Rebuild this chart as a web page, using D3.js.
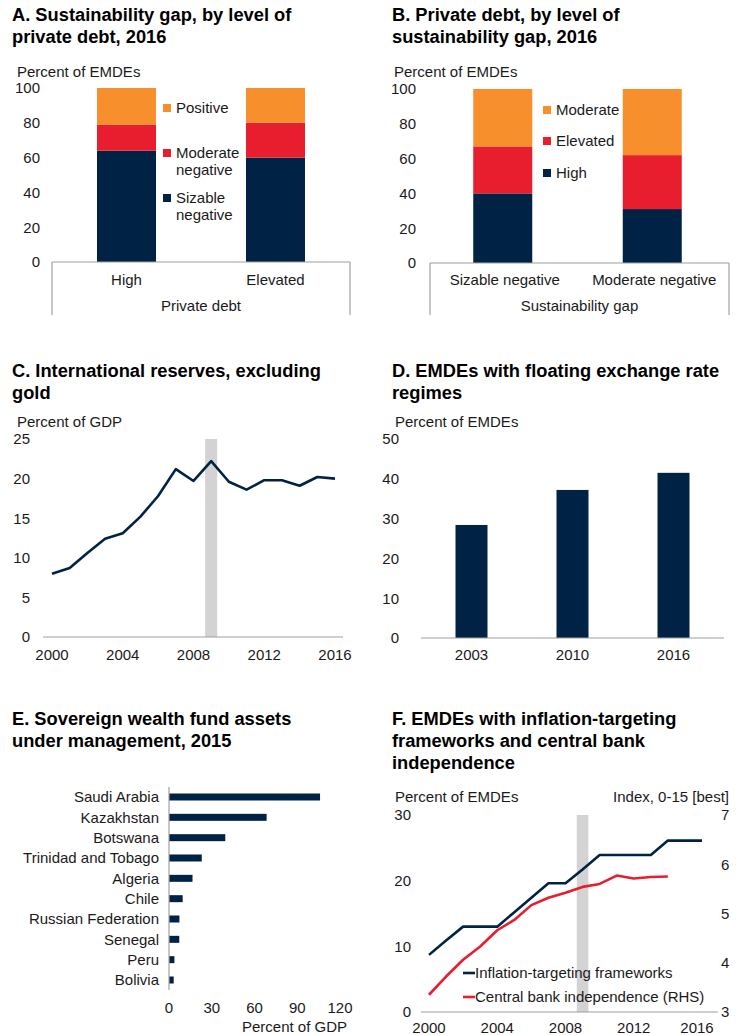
<!DOCTYPE html>
<html>
<head>
<meta charset="utf-8">
<script src="https://cdn.jsdelivr.net/npm/d3@7"></script>
<style>
  body { margin: 0; background: #fff; }
  svg { font-family: Arial, "Liberation Sans", sans-serif; }
  .title { font-weight: bold; font-size: 18.3px; fill: #000; }
  .lbl { font-size: 15px; fill: #1a1a1a; }
</style>
</head>
<body>
<svg id="chart"></svg>
<script>
// ---- data ----
const gapCats = ['High', 'Elevated'];
const gapSeries = ['Sizable negative', 'Moderate negative', 'Positive'];
const gapValues = [[64, 15, 21], [60, 20, 20]];

const debtCats = ['Sizable negative', 'Moderate negative'];
const debtSeries = ['High', 'Elevated', 'Moderate'];
const debtValues = [[40, 27, 33], [31, 31, 38]];

const resYears = d3.range(2000, 2017);
const resValues = [8.0, 8.7, 10.6, 12.4, 13.1, 15.2, 17.8, 21.2, 19.7, 22.2, 19.6, 18.6, 19.8, 19.8, 19.1, 20.2, 20.0];

const floatYears = ['2003', '2010', '2016'];
const floatValues = [28.4, 37.2, 41.5];

const swfCountries = ['Saudi Arabia', 'Kazakhstan', 'Botswana', 'Trinidad and Tobago', 'Algeria',
  'Chile', 'Russian Federation', 'Senegal', 'Peru', 'Bolivia'];
const swfValues = [106, 68.5, 39.5, 23, 16.5, 9.6, 7.3, 7.2, 3.8, 3.3];

const itYears = d3.range(2000, 2017);
const itValues = [8.7, 10.9, 13.0, 13.0, 13.0, 15.2, 17.4, 19.6, 19.6, 21.7, 23.9, 23.9, 23.9, 23.9, 26.1, 26.1, 26.1];
const cbiYears = d3.range(2000, 2015);
const cbiValues = [3.35, 3.72, 4.06, 4.33, 4.66, 4.87, 5.17, 5.32, 5.42, 5.54, 5.60, 5.77, 5.71, 5.74, 5.75];

const crisisBand = [2008.66, 2009.34];

const navy = '#002345', red = '#e81d2d', orange = '#f68f2c', band = '#d3d3d3', axisGrey = '#a0a0a0';

const svg = d3.select('#chart').attr('width', 742).attr('height', 1035);

function title(x, y, lines) {
  const t = svg.append('text').attr('class', 'title');
  lines.forEach((l, i) => t.append('tspan').attr('x', x).attr('y', y + i * 22).text(l));
}
function label(x, y, txt, anchor) {
  return svg.append('text').attr('class', 'lbl').attr('x', x).attr('y', y)
    .attr('text-anchor', anchor || 'start').text(txt);
}
function leftTicks(scale, ticks, xRight) {
  svg.append('g').selectAll('text').data(ticks).join('text')
    .attr('class', 'lbl').attr('x', xRight).attr('y', d => scale(d)).attr('dy', '0.36em')
    .attr('text-anchor', 'end').text(d => d);
}
function hline(x1, x2, y) {
  svg.append('line').attr('x1', x1).attr('x2', x2).attr('y1', y).attr('y2', y)
    .attr('stroke', axisGrey).attr('stroke-width', 1.2);
}
function vline(x, y1, y2) {
  svg.append('line').attr('x1', x).attr('x2', x).attr('y1', y1).attr('y2', y2)
    .attr('stroke', axisGrey).attr('stroke-width', 1.2);
}

// stacked bar panel (A and B)
function stacked(opt) {
  const x = d3.scaleBand().domain(opt.cats).range([opt.x0, opt.x1]);
  const y = d3.scaleLinear().domain([0, 100]).range([opt.y0, opt.y1]);
  const colors = [navy, red, orange];
  const rows = opt.cats.map((c, i) => {
    const r = { cat: c };
    opt.series.forEach((s, j) => r[s] = opt.values[i][j]);
    return r;
  });
  const stack = d3.stack().keys(opt.series)(rows);
  const bw = 59;
  svg.append('g').selectAll('g').data(stack).join('g')
    .attr('fill', (d, i) => colors[i])
    .selectAll('rect').data(d => d).join('rect')
    .attr('x', d => x(d.data.cat) + x.bandwidth() / 2 - bw / 2 + opt.shift)
    .attr('width', bw)
    .attr('y', d => y(d[1]))
    .attr('height', d => y(d[0]) - y(d[1]));
  leftTicks(y, d3.range(0, 101, 20), opt.tickX);
  hline(opt.x0, opt.x1, opt.y0);
  vline(opt.x0, opt.y0, 315);
  vline(opt.x1, opt.y0, 315);
  opt.cats.forEach(c => label(x(c) + x.bandwidth() / 2, 285, c, 'middle'));
  label((opt.x0 + opt.x1) / 2, 311, opt.axisTitle, 'middle');
  label(opt.unitX, 77, 'Percent of EMDEs');
  // legend
  opt.legend.forEach(l => {
    svg.append('rect').attr('x', opt.legX).attr('y', l.y - 4).attr('width', 8).attr('height', 8)
      .attr('fill', colors[l.i]);
    l.lines.forEach((t, k) => label(opt.legX + 13, l.y + 5.4 + k * 17, t));
  });
}

// ---- Panel A ----
title(12, 21, ['A. Sustainability gap, by level of', 'private debt, 2016']);
stacked({
  cats: gapCats, series: gapSeries, values: gapValues,
  x0: 52, x1: 350, y0: 262, y1: 88, shift: 0, tickX: 40, unitX: 17,
  axisTitle: 'Private debt', legX: 163,
  legend: [
    { i: 2, y: 108, lines: ['Positive'] },
    { i: 1, y: 153, lines: ['Moderate', 'negative'] },
    { i: 0, y: 198, lines: ['Sizable', 'negative'] }
  ]
});

// ---- Panel B ----
title(392, 21, ['B. Private debt, by level of', 'sustainability gap, 2016']);
stacked({
  cats: debtCats, series: debtSeries, values: debtValues,
  x0: 430, x1: 729, y0: 263, y1: 89, shift: -2, tickX: 416, unitX: 394,
  axisTitle: 'Sustainability gap', legX: 543,
  legend: [
    { i: 2, y: 110, lines: ['Moderate'] },
    { i: 1, y: 141, lines: ['Elevated'] },
    { i: 0, y: 173, lines: ['High'] }
  ]
});

// ---- Panel C ----
title(12, 377, ['C. International reserves, excluding', 'gold']);
{
  const x = d3.scaleLinear().domain([2000, 2016]).range([52, 335]);
  const y = d3.scaleLinear().domain([0, 25]).range([637, 439]);
  svg.append('rect').attr('x', x(crisisBand[0])).attr('width', x(crisisBand[1]) - x(crisisBand[0]))
    .attr('y', y(25)).attr('height', y(0) - y(25)).attr('fill', band);
  hline(43, 343, y(0));
  svg.append('path').datum(resValues)
    .attr('d', d3.line().x((d, i) => x(resYears[i])).y(d => y(d)))
    .attr('fill', 'none').attr('stroke', navy).attr('stroke-width', 2.6).attr('stroke-linejoin', 'round');
  leftTicks(y, d3.range(0, 26, 5), 30);
  [2000, 2004, 2008, 2012, 2016].forEach(t => label(x(t), 660, t, 'middle'));
  label(17, 427, 'Percent of GDP');
}

// ---- Panel D ----
title(392, 377, ['D. EMDEs with floating exchange rate', 'regimes']);
{
  const x = d3.scaleBand().domain(floatYears).range([421, 724]);
  const y = d3.scaleLinear().domain([0, 50]).range([638, 439]);
  const bw = 32;
  svg.append('g').selectAll('rect').data(floatValues).join('rect')
    .attr('x', (d, i) => x(floatYears[i]) + x.bandwidth() / 2 - bw / 2)
    .attr('width', bw).attr('y', d => y(d)).attr('height', d => y(0) - y(d)).attr('fill', navy);
  hline(421, 724, y(0));
  leftTicks(y, d3.range(0, 51, 10), 399);
  floatYears.forEach(t => label(x(t) + x.bandwidth() / 2, 660, t, 'middle'));
  label(395, 427, 'Percent of EMDEs');
}

// ---- Panel E ----
title(12, 725, ['E. Sovereign wealth fund assets', 'under management, 2015']);
{
  const x = d3.scaleLinear().domain([0, 120]).range([169, 340]);
  const y = d3.scalePoint().domain(swfCountries).range([797, 980]);
  svg.append('g').selectAll('rect').data(swfValues).join('rect')
    .attr('x', x(0)).attr('y', (d, i) => y(swfCountries[i]) - 3.5).attr('height', 7)
    .attr('width', d => x(d) - x(0)).attr('fill', navy);
  vline(x(0), 787, 990);
  swfCountries.forEach(c => label(159, y(c) + 5.4, c, 'end'));
  [0, 30, 60, 90, 120].forEach(t => label(x(t), 1013, t, 'middle'));
  label(347, 1032, 'Percent of GDP', 'end');
}

// ---- Panel F ----
title(392, 725, ['F. EMDEs with inflation-targeting', 'frameworks and central bank', 'independence']);
{
  const x = d3.scaleLinear().domain([2000, 2016]).range([429, 702]);
  const yL = d3.scaleLinear().domain([0, 30]).range([1012, 815]);
  const yR = d3.scaleLinear().domain([3, 7]).range([1012, 815]);
  svg.append('rect').attr('x', x(crisisBand[0])).attr('width', x(crisisBand[1]) - x(crisisBand[0]))
    .attr('y', yL(30)).attr('height', yL(0) - yL(30)).attr('fill', band);
  hline(421, 718, yL(0));
  svg.append('path').datum(itValues)
    .attr('d', d3.line().x((d, i) => x(itYears[i])).y(d => yL(d)))
    .attr('fill', 'none').attr('stroke', navy).attr('stroke-width', 2.6).attr('stroke-linejoin', 'round');
  svg.append('path').datum(cbiValues)
    .attr('d', d3.line().x((d, i) => x(cbiYears[i])).y(d => yR(d)))
    .attr('fill', 'none').attr('stroke', red).attr('stroke-width', 2.6).attr('stroke-linejoin', 'round');
  leftTicks(yL, [0, 10, 20, 30], 411);
  svg.append('g').selectAll('text').data([3, 4, 5, 6, 7]).join('text')
    .attr('class', 'lbl').attr('x', 721).attr('y', d => yR(d)).attr('dy', '0.36em').text(d => d);
  [2000, 2004, 2008, 2012, 2016].forEach(t => label(x(t) - (t === 2016 ? 5 : 0), 1033, t, 'middle'));
  label(395, 802, 'Percent of EMDEs');
  label(729, 802, 'Index, 0-15 [best]', 'end');
  [[navy, 973, 'Inflation-targeting frameworks'], [red, 997, 'Central bank independence (RHS)']].forEach(l => {
    svg.append('line').attr('x1', 463).attr('x2', 475).attr('y1', l[1]).attr('y2', l[1])
      .attr('stroke', l[0]).attr('stroke-width', 2.6);
    label(475, l[1] + 5.4, l[2]);
  });
}
</script>
</body>
</html>
